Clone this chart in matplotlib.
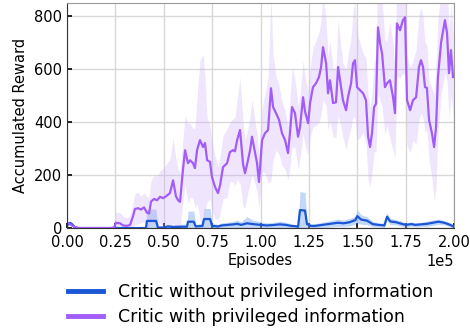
import numpy as np
import matplotlib
matplotlib.use("Agg")
import matplotlib.pyplot as plt
from matplotlib.lines import Line2D

# Critic with privileged information (episodes in thousands)
purple_ep = [0, 1.6, 4.1, 6.7, 11.9, 17.1, 22.2, 24.3, 25.3, 27.4, 28.9, 31, 32.6, 34.1, 35.1, 36.7,
             38.2, 39.8, 41.3, 42.4, 43.4, 45, 46.5, 48.1, 49.6, 51.2, 53.2, 54.8, 56.3, 57.4, 58.4,
             59.9, 61, 62.5, 63.6, 65.1, 66.1, 67.2, 68.7, 70.3, 71.3, 72.4, 73.9, 74.9, 76.5, 78,
             79.1, 80.6, 82.7, 84.2, 85.8, 86.8, 87.9, 89.4, 91, 92, 93.5, 94.6, 95.6, 97.2, 98.2,
             99.2, 100.8, 102.3, 103.9, 105.4, 106.5, 108, 109.6, 111.1, 112.7, 114.2, 115.2, 116.3,
             117.8, 119.4, 120.4, 122, 123, 124.6, 125.6, 127.1, 128.7, 130.2, 131.3, 132.3, 133.9,
             134.9, 135.9, 137.5, 139, 140.1, 141.6, 142.6, 144.2, 145.2, 146.8, 147.8, 148.8, 149.9,
             151.4, 153, 154.5, 155.6, 156.6, 157.6, 158.7, 159.7, 160.7, 161.8, 162.8, 164.3, 165.4,
             166.9, 168.5, 169.5, 170.5, 172.1, 173.6, 174.7, 175.7, 177.3, 178.8, 180.4, 181.9,
             182.9, 184, 185, 186, 187.1, 188.6, 189.7, 190.7, 191.7, 193.3, 195.3, 196.4, 197.4,
             198.4, 199.5]
purple_mean = [20, 15, 3, 0, 0, 0, 0, 2, 20, 18, 10, 8, 12, 45, 72, 75,
               70, 78, 58, 55, 100, 110, 105, 118, 113, 120, 132, 180, 120, 105, 99,
               219, 294, 245, 256, 245, 226, 294, 332, 306, 321, 256, 250, 193, 155, 132,
               162, 230, 245, 287, 294, 290, 332, 370, 240, 207, 256, 294, 345, 283, 245,
               174, 332, 358, 370, 528, 457, 434, 408, 358, 332, 283, 358, 457,
               434, 345, 381, 494, 440, 396, 472, 532, 547, 570, 608, 683, 622,
               509, 558, 472, 475, 608, 532, 483, 445, 494, 547, 622, 634, 532,
               521, 509, 483, 345, 306, 358, 457, 470, 758, 698, 660, 532, 547,
               558, 494, 434, 773, 747, 785, 796, 483, 445, 483, 494, 608,
               634, 608, 532, 530, 408, 358, 306, 381, 570, 700, 785, 736, 585,
               672, 570]
purple_spread = [8, 8, 5, 3, 3, 3, 3, 5, 40, 40, 35, 30, 35, 50, 60, 60,
                 50, 55, 60, 60, 80, 90, 90, 100, 110, 120, 130, 160, 140, 120, 110,
                 120, 130, 150, 140, 130, 150, 200, 300, 350, 250, 160, 140, 130, 120, 100,
                 110, 120, 130, 110, 120, 130, 150, 200, 160, 130, 120, 130, 140, 120, 110,
                 100, 120, 150, 200, 350, 200, 140, 130, 120, 110, 100, 130, 150,
                 130, 120, 120, 140, 130, 120, 130, 150, 160, 170, 180, 200, 160,
                 140, 150, 130, 130, 180, 150, 140, 150, 160, 170, 200, 220, 200,
                 180, 150, 160, 160, 150, 150, 170, 180, 250, 220, 200, 180, 160,
                 220, 200, 170, 200, 180, 200, 220, 170, 160, 150, 180, 200,
                 200, 190, 170, 160, 150, 170, 200, 230, 220, 200, 200, 180, 170,
                 170, 150]

# Critic without privileged information
blue_ep = [0, 1.6, 3, 4.1, 6, 20, 40.8, 41.3, 46, 47, 50, 52, 55, 60, 62, 62.5, 65.5, 66.5, 70, 70.8,
           73.9, 75, 78, 80, 83, 86, 88, 90, 93, 96, 100, 103, 106, 110, 113, 116, 118, 119.4,
           120.4, 123, 124, 126, 128, 132, 136, 140, 143, 146, 149, 150, 152, 155, 158, 161, 164,
           165.4, 167, 170, 172, 175, 178, 180, 183, 186, 189, 192, 195, 198, 200]
blue_mean = [10, 20, 12, 2, 0, 0, 0, 27, 27, 2, 2, 6, 4, 5, 5, 24, 24, 6, 8, 34,
             34, 8, 6, 10, 12, 14, 16, 12, 18, 15, 12, 10, 11, 14, 12, 8, 7, 5,
             68, 66, 15, 8, 8, 12, 16, 20, 18, 22, 30, 45, 32, 28, 15, 12, 10,
             43, 25, 22, 18, 12, 15, 12, 14, 16, 20, 24, 20, 12, 5]
blue_spread = [5, 5, 5, 2, 1, 1, 1, 45, 45, 5, 5, 8, 8, 10, 10, 40, 40, 8, 10, 40,
               40, 10, 8, 10, 10, 12, 14, 12, 25, 15, 12, 10, 10, 12, 10, 8, 6, 5,
               70, 68, 12, 8, 8, 10, 12, 14, 12, 14, 15, 25, 18, 15, 10, 8, 8,
               15, 12, 10, 10, 8, 8, 8, 8, 10, 10, 10, 8, 8, 5]

labels = ["Critic without privileged information", "Critic with privileged information"]
blue_c = "#1a56d6"
purple_c = "#a25cf7"

fig = plt.figure(figsize=(4.7, 3.31), dpi=100)
ax = fig.add_axes([0.1426, 0.311, 0.9660 - 0.1426, 0.991 - 0.311])

px = np.array(purple_ep) * 1000
pm = np.array(purple_mean, dtype=float)
ps = np.array(purple_spread, dtype=float)
bx = np.array(blue_ep) * 1000
bm = np.array(blue_mean, dtype=float)
bs = np.array(blue_spread, dtype=float)

ax.fill_between(bx, np.clip(bm - bs, 0, None), bm + bs, color="#7aaaf0", alpha=0.45, lw=0)
ax.fill_between(px, np.clip(pm - ps, 0, None), pm + ps, color="#c9a8fb", alpha=0.28, lw=0)
ax.plot(bx, bm, color=blue_c, lw=1.6)
ax.plot(px, pm, color=purple_c, lw=1.6)

ax.set_xlim(0, 200000)
ax.set_ylim(0, 850)
ax.set_xticks(np.arange(0, 200001, 25000))
ax.set_yticks([0, 200, 400, 600, 800])
ax.ticklabel_format(style="sci", axis="x", scilimits=(0, 0))
ax.xaxis.get_offset_text().set_fontsize(10.5)
ax.grid(True, color="#d8d8d8", lw=1)
ax.set_axisbelow(True)
ax.tick_params(direction="in", length=3.5, width=1.2, color="black", labelsize=10.5)
ax.tick_params(axis="x", pad=5)
for s in ["left", "bottom"]:
    ax.spines[s].set_color("#333333")
for s in ["top", "right"]:
    ax.spines[s].set_color("#999999")
ax.set_xlabel("Episodes", fontsize=10.5, labelpad=2)
ax.set_ylabel("Accumulated Reward", fontsize=10.5)

h1 = Line2D([], [], color=blue_c, lw=3.5)
h2 = Line2D([], [], color=purple_c, lw=3.5)
fig.legend([h1, h2], labels, loc="upper left", bbox_to_anchor=(0.13, 0.165),
           frameon=False, fontsize=12.5, handlelength=2.0, handletextpad=0.85,
           borderaxespad=0, labelspacing=0.4)

fig.savefig("out.png", dpi=100)
